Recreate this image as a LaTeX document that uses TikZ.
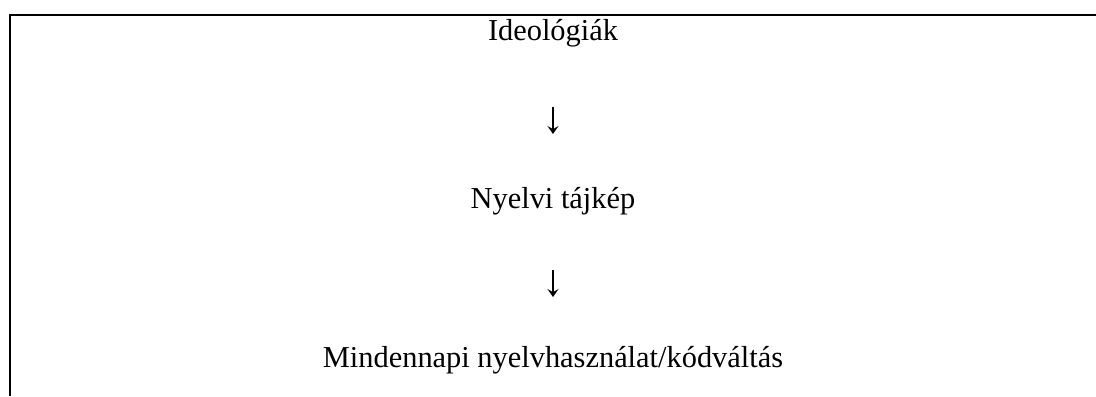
\documentclass[tikz,border=0pt]{standalone}
\usepackage{fontspec}
\setmainfont{Liberation Serif}
\usepackage{tikz}
\usetikzlibrary{arrows.meta, positioning}

\begin{document}
\begin{tikzpicture}[x=0.5pt, y=-0.5pt,
    frame/.style = {draw=black, line width=1pt},
    label/.style = {inner sep=0pt, anchor=base, font=\fontsize{15.2}{18}\selectfont},
    flow/.style = {draw=black, line width=0.6pt, -{Stealth[length=4pt, width=5.5pt, inset=1.6pt]}}
]
\useasboundingbox (0, 0) rectangle (1096, 396);

% Frame
\coordinate (topright) at (1096, 15);
\coordinate (corner) at (10, 15);
\coordinate (bottomleft) at (10, 396);
\draw [frame] (topright) -- (corner) -- (bottomleft);

% Labels
\node (ideo) [label] at (553, 40) {Ideológiák};
\node (tajkep) [label] at (553, 208) {Nyelvi tájkép};
\node (haszn) [label] at (553, 367) {Mindennapi nyelvhasználat/kódváltás};

% Arrows
\coordinate (a1start) at (553, 107);
\coordinate (a1end) at (553, 134);
\coordinate (a2start) at (553, 270);
\coordinate (a2end) at (553, 297);
\draw [flow] (a1start) -- (a1end);
\draw [flow] (a2start) -- (a2end);

\end{tikzpicture}
\end{document}
